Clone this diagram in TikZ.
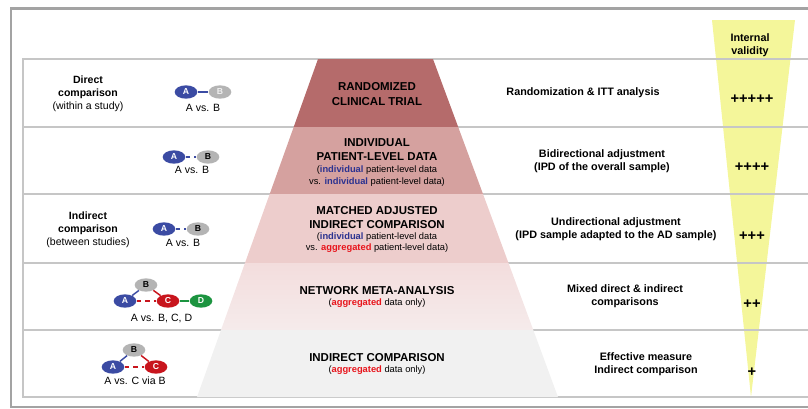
\documentclass[tikz,border=0pt]{standalone}
\usepackage{fontspec}
\setmainfont{Liberation Sans}
\setsansfont{Liberation Sans}
\usetikzlibrary{shapes.geometric,positioning}

\definecolor{armblue}{HTML}{3B4BA3}
\definecolor{armgray}{HTML}{B4B4B4}
\definecolor{armred}{HTML}{C8151D}
\definecolor{armgreen}{HTML}{1C9440}
\definecolor{textblue}{HTML}{2B3290}
\definecolor{textred}{HTML}{E8141B}
\definecolor{tierOne}{HTML}{B56B6B}
\definecolor{tierTwo}{HTML}{D5A19F}
\definecolor{tierThree}{HTML}{EDCDCC}
\definecolor{tierFour}{HTML}{F3DDDD}
\definecolor{tierFourLow}{HTML}{F5EBEB}
\definecolor{tierFive}{HTML}{F1F1F1}
\definecolor{validity}{HTML}{F4F69A}
\definecolor{rowrule}{HTML}{C6C6C6}
\definecolor{framerule}{HTML}{A3A3A3}

\newcommand{\indiv}{\textcolor{textblue}{\textbf{individual}}}
\newcommand{\aggr}{\textcolor{textred}{\textbf{aggregated}}}

\begin{document}
\begin{tikzpicture}[x=0.75pt, y=-0.75pt, node distance=25.5pt, every node/.style={font=\sffamily, align=center},
  tier/.style={font=\sffamily\bfseries\fontsize{8.6}{10.8}\selectfont},
  tiernote/.style={font=\sffamily\fontsize{7}{8.4}\selectfont},
  method/.style={font=\sffamily\bfseries\fontsize{8.1}{9.8}\selectfont},
  kind/.style={font=\sffamily\fontsize{7.9}{9.8}\selectfont},
  versus/.style={font=\sffamily\fontsize{7.9}{9.5}\selectfont},
  score/.style={font=\sffamily\bfseries\fontsize{11}{12}\selectfont},
  arm/.style={ellipse, minimum width=17pt, minimum height=10pt, inner sep=0pt, text=white, font=\sffamily\bfseries\fontsize{6.5}{7}\selectfont},
  armA/.style={arm, fill=armblue},
  armB/.style={arm, fill=armgray, text=black},
  armC/.style={arm, fill=armred},
  armD/.style={arm, fill=armgreen},
  link/.style={line width=1.1pt},
  dashlink/.style={link, dash pattern=on 3.5pt off 3pt}]
\useasboundingbox (0,0) rectangle (808,408);

% Validity wedge, frame and table rules
\fill[validity] (712,20) -- (795,20) -- (751,397) -- cycle;
\draw[framerule, line width=1.8pt] (808,8.5) -- (11,8.5) -- (11,407) -- (808,407);
\draw[rowrule, line width=0.8pt] (808,59) -- (23,59) -- (23,397) -- (808,397);
\draw[rowrule, line width=0.8pt] (23,127) -- (808,127);
\draw[rowrule, line width=0.8pt] (23,194) -- (808,194);
\draw[rowrule, line width=0.8pt] (23,263) -- (808,263);
\draw[rowrule, line width=0.8pt] (23,330) -- (808,330);

% Evidence pyramid
\fill[tierOne]   (318,59) -- (433,59) -- (458.2,127) -- (293.7,127) -- cycle;
\fill[tierTwo]   (293.7,127) -- (458.2,127) -- (483,194) -- (269.7,194) -- cycle;
\fill[tierThree] (269.7,194) -- (483,194) -- (508.5,263) -- (245,263) -- cycle;
\shade[top color=tierFour, bottom color=tierFourLow] (245,263) -- (508.5,263) -- (533.3,330) -- (221,330) -- cycle;
\fill[tierFive]  (221,330) -- (533.3,330) -- (558,397) -- (197,397) -- cycle;

% Specification of nodes (position, etc.)
\node (directKind)      [kind]          at (88,94)      {\textbf{Direct}\\\textbf{comparison}\\(within a study)};
\node (indirectKind)    [kind]          at (88,230)     {\textbf{Indirect}\\\textbf{comparison}\\(between studies)};

\node (a1)              [armA]          at (186,92)     {A};
\node (b1)              [armB, right of=a1, text=white!88!gray] {B};
\node (vs1)             [versus]        at (203,107.5)  {A vs. B};

\node (a2)              [armA]          at (174,157)    {A};
\node (b2)              [armB, right of=a2]             {B};
\node (vs2)             [versus]        at (192,170)    {A vs. B};

\node (a3)              [armA]          at (164,229)    {A};
\node (b3)              [armB, right of=a3]             {B};
\node (vs3)             [versus]        at (183,243)    {A vs. B};

\node (a4)              [armA]          at (125,301)    {A};
\node (b4)              [armB]          at (146,285)    {B};
\node (c4)              [armC, right of=a4, xshift=6.75pt] {C};
\node (d4)              [armD, right of=c4, xshift=-0.75pt] {D};
\node (vs4)             [versus]        at (161.5,318)  {A vs. B, C, D};

\node (a5)              [armA]          at (113,367)    {A};
\node (b5)              [armB]          at (134,350)    {B};
\node (c5)              [armC, right of=a5, xshift=6.75pt] {C};
\node (vs5)             [versus]        at (135,381)    {A vs. C via B};

\node (rct)             [tier]          at (377,94)     {RANDOMIZED\\CLINICAL TRIAL};
\node (ipd)             [tier]          at (377,149.5)  {INDIVIDUAL\\PATIENT-LEVEL DATA};
\node (ipdNote)         [tiernote]      at (377,176)    {(\indiv{} patient-level data\\vs. \indiv{} patient-level data)};
\node (maic)            [tier]          at (377,217.5)  {MATCHED ADJUSTED\\INDIRECT COMPARISON};
\node (maicNote)        [tiernote]      at (377,243)    {(\indiv{} patient-level data\\vs. \aggr{} patient-level data)};
\node (nma)             [tier]          at (377,290.5)  {NETWORK META-ANALYSIS};
\node (nmaNote)         [tiernote]      at (377,303)    {(\aggr{} data only)};
\node (ic)              [tier]          at (377,358)    {INDIRECT COMPARISON};
\node (icNote)          [tiernote]      at (377,370.5)  {(\aggr{} data only)};

\node (itt)             [method]        at (583,93)     {Randomization \& ITT analysis};
\node (bidir)           [method]        at (602,161)    {Bidirectional adjustment\\(IPD of the overall sample)};
\node (undir)           [method]        at (616,229)    {Undirectional adjustment\\(IPD sample adapted to the AD sample)};
\node (mixed)           [method]        at (625,296)    {Mixed direct \& indirect\\comparisons};
\node (effect)          [method]        at (646,364)    {Effective measure\\Indirect comparison};

\node (validityTitle)   [method]        at (750,45)     {Internal\\validity};
\node (score5)          [score]         at (752,99)     {+++++};
\node (score4)          [score]         at (752,167)    {++++};
\node (score3)          [score]         at (752,236)    {+++};
\node (score2)          [score]         at (752,304)    {++};
\node (score1)          [score]         at (752,372)    {+};

\draw[link, armblue]        (a1) -- (b1);
\draw[dashlink, armblue]    (a2) -- (b2);
\draw[dashlink, armblue]    (a3) -- (b3);

\draw[link, armblue]        (a4) -- (b4);
\draw[link, armred]         (b4) -- (c4);
\draw[dashlink, armred]     (a4) -- (c4);
\draw[link, armgreen]       (c4) -- (d4);

\draw[link, armblue]        (a5) -- (b5);
\draw[link, armred]         (b5) -- (c5);
\draw[dashlink, armred]     (a5) -- (c5);

\end{tikzpicture}
\end{document}
